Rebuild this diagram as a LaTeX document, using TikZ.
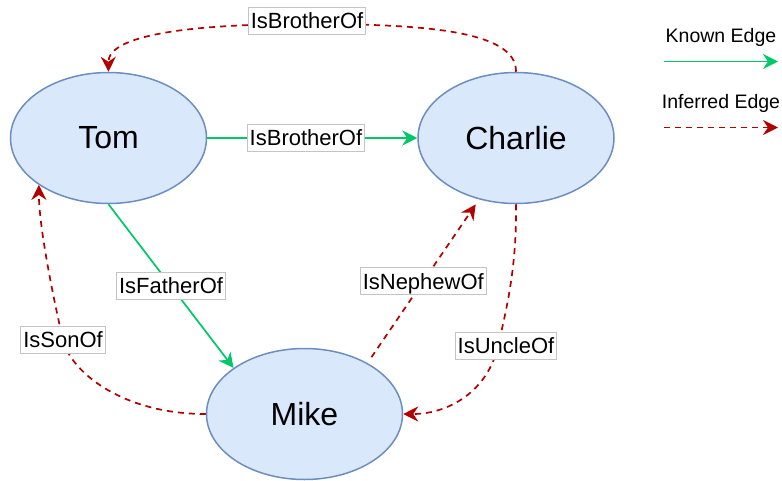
\documentclass[tikz,border=0pt]{standalone}
\usepackage{fontspec}
\setmainfont{Liberation Sans}
\usetikzlibrary{shapes.geometric,arrows.meta}

\definecolor{nodefill}{HTML}{DAE8FC}
\definecolor{nodeline}{HTML}{6C8EBF}
\definecolor{knowngreen}{HTML}{00C868}
\definecolor{inferredred}{HTML}{B20000}
\definecolor{labelline}{HTML}{C4C4C4}

\tikzset{
  person/.style={ellipse, draw=nodeline, fill=nodefill, line width=1.5pt,
    minimum width=196pt, minimum height=131pt, inner sep=0pt,
    font=\fontsize{32}{38}\selectfont},
  lbl/.style={draw=labelline, fill=white, line width=0.8pt, solid,
    font=\fontsize{22}{26}\selectfont, text height=15.8pt, text depth=0pt,
    inner xsep=2.5pt, inner ysep=5.6pt},
  tipstyle/.style={-{Stealth[length=15pt,width=15pt,inset=5pt]}},
  known/.style={draw=knowngreen, line width=1.7pt, tipstyle},
  inferred/.style={draw=inferredred, line width=1.7pt,
    dash pattern=on 6pt off 5pt, tipstyle},
  legendtext/.style={font=\fontsize{19.5}{24}\selectfont, anchor=base}
}

\begin{document}
\begin{tikzpicture}[x=1pt,y=-1pt]
  \useasboundingbox (0,0) rectangle (782,480);

  % people
  \node[person] (tom) at (108.5,138) {Tom};
  \node[person] (charlie) at (516,138) {Charlie};
  \node[person] (mike) at (304.5,414) {Mike};

  % known relations
  \draw[known] (tom.east) -- (charlie.west)
    node[lbl, pos=0.47] {IsBrotherOf};
  \draw[known] (tom.south) -- (mike.147)
    node[lbl, midway] {IsFatherOf};

  % inferred relations
  \draw[inferred] (charlie.north) .. controls (517,30) and (420,24) .. (307,24)
    node[lbl, yshift=3.5pt] {IsBrotherOf}
    .. controls (190,24) and (108,35) .. (tom.north);
  \draw[inferred] (mike.west) .. controls (120,414) and (70,370) .. (63,340)
    node[lbl] {IsSonOf}
    .. controls (56,310) and (39,230) .. (tom.214);
  \draw[inferred, shorten <=7pt, shorten >=6pt] (mike.39) -- (charlie.239)
    node[lbl, midway] {IsNephewOf};
  \draw[inferred] (charlie.south) .. controls (517,270) and (505,315) .. (498,346)
    node[lbl, xshift=8pt] {IsUncleOf}
    .. controls (488,390) and (450,414) .. (mike.east);

  % legend
  \node[legendtext] (knowntitle) at (721,42.7) {Known Edge};
  \coordinate (k1) at (664,61.5);
  \coordinate (k2) at (778,61.5);
  \draw[known] (k1) -- (k2);
  \node[legendtext] (inferredtitle) at (721,108.3) {Inferred Edge};
  \coordinate (i1) at (664,127.5);
  \coordinate (i2) at (778,127.5);
  \draw[inferred] (i1) -- (i2);
\end{tikzpicture}
\end{document}
